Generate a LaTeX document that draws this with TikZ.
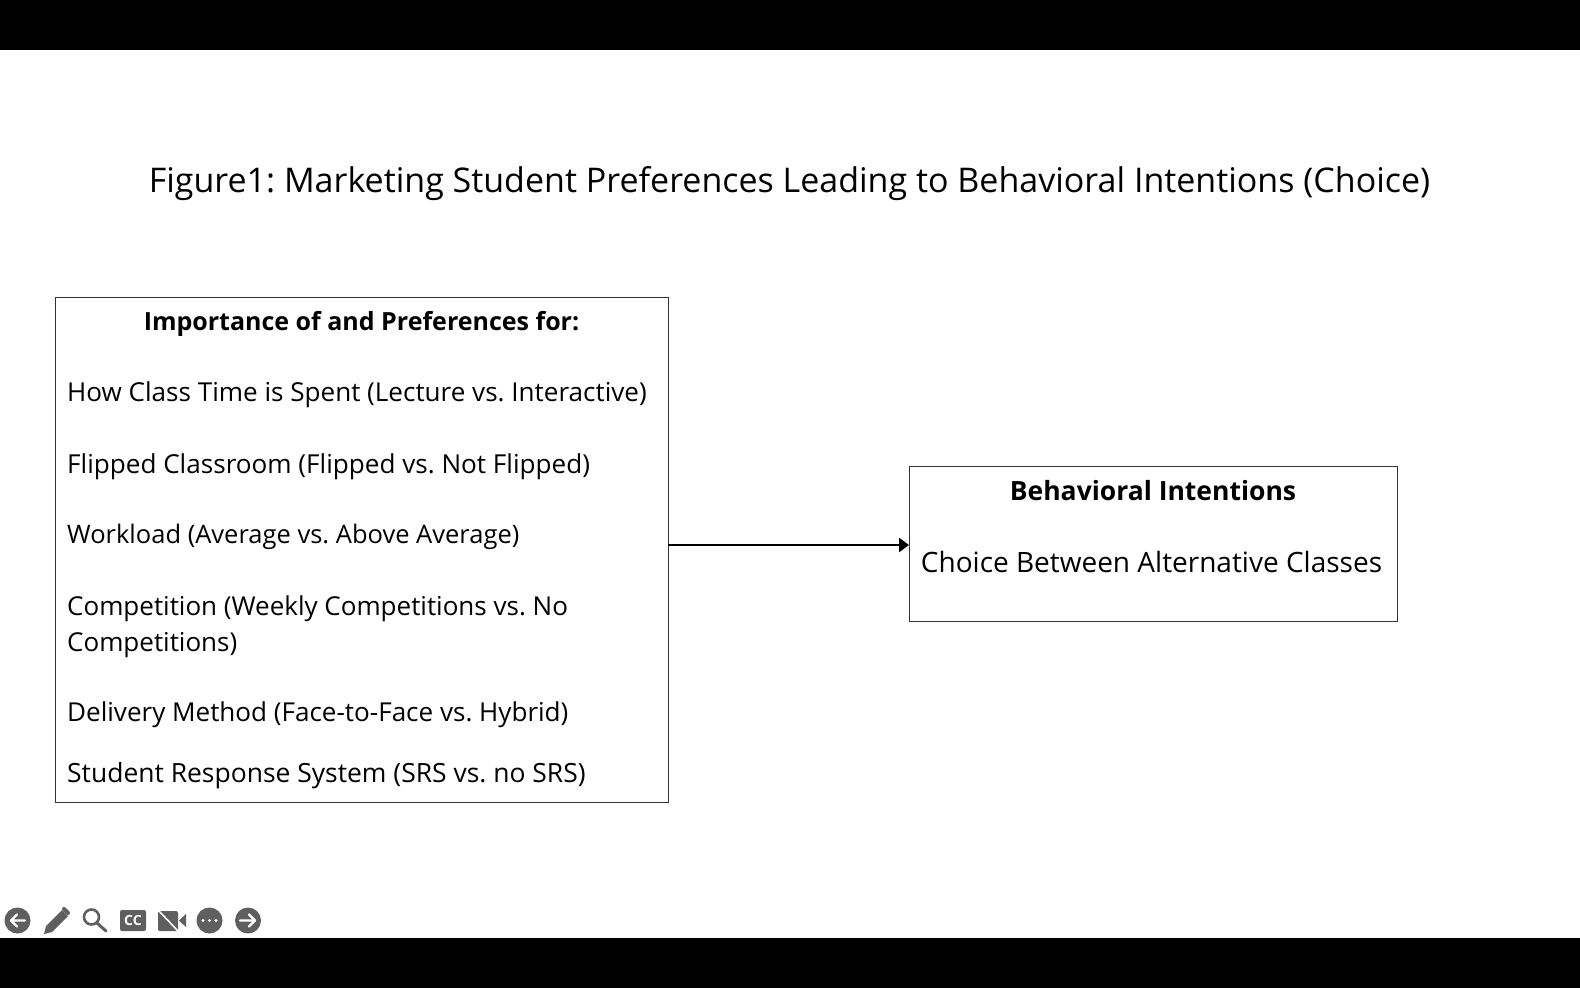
\documentclass[tikz,border=0pt]{standalone}
\usepackage{fontspec}
\setmainfont{Open Sans}
\usetikzlibrary{arrows.meta}
\definecolor{icon}{HTML}{5F5F5F}
\tikzset{
  x=1pt,y=-1pt,
  bar/.style={fill=black,draw=none},
  frame/.style={draw=black!80,line width=1pt,fill=white,inner sep=0pt,outer sep=0pt,anchor=north west},
  item/.style={anchor=base west,inner sep=0pt,font=\fontsize{26}{26}\selectfont,text=black},
  head/.style={anchor=base,inner sep=0pt,font=\fontsize{26}{26}\bfseries\selectfont,text=black},
  link/.style={draw=black,line width=2.7pt,-{Triangle[length=10pt,width=14pt]}},
  disc/.style={circle,fill=icon,draw=none,minimum size=26pt,inner sep=0pt},
  glyph/.style={draw=white,line width=2.2pt,line cap=round,line join=round},
  ink/.style={draw=icon,line width=2.6pt,line cap=round}
}
\begin{document}
\frenchspacing
\begin{tikzpicture}
\useasboundingbox (0,0) rectangle (1580,988);
\fill[white] (0,0) rectangle (1580,988);
\fill[bar] (0,0) rectangle (1580,49.5);
\fill[bar] (0,938) rectangle (1580,988);
\node[anchor=base,inner sep=0pt,font=\fontsize{34}{34}\selectfont] (title) at (789.5,192.5) {Figure1: Marketing Student Preferences Leading to Behavioral Intentions (Choice)};
\node[frame,minimum width=612.5pt,minimum height=505pt] (left) at (55.5,297) {};
\node[frame,minimum width=488pt,minimum height=155pt] (right) at (909,466) {};
\node[head,font=\fontsize{25}{25}\bfseries\selectfont] (lh) at (361.5,330.5) {Importance of and Preferences for:};
\node[item,font=\fontsize{26.07}{26}\selectfont] (l1) at (67,401.5) {How Class Time is Spent (Lecture vs. Interactive)};
\node[item,font=\fontsize{26.1}{26}\selectfont] (l2) at (67,473) {Flipped Classroom (Flipped vs. Not Flipped)};
\node[item,font=\fontsize{25.5}{26}\selectfont] (l3) at (67,543.5) {Workload (Average vs. Above Average)};
\node[item] (l4) at (67,615) {Competition (Weekly Competitions vs. No};
\node[item] (l4b) at (67,651) {Competitions)};
\node[item,font=\fontsize{26.05}{26}\selectfont] (l5) at (67,721) {Delivery Method (Face-to-Face vs. Hybrid)};
\node[item,font=\fontsize{26.45}{26}\selectfont] (l6) at (67,782.5) {Student Response System (SRS vs. no SRS)};
\node[head,font=\fontsize{26.5}{26.5}\bfseries\selectfont] (rh) at (1153,500) {Behavioral Intentions};
\node[item,anchor=base,font=\fontsize{28}{28}\selectfont] (r1) at (1151.5,572) {Choice Between Alternative Classes};
\draw[link] ([yshift=-1.5pt]left.east |- right.west) -- ([yshift=-1.5pt]right.west);
% toolbar
\node[disc] (ib) at (17.5,920.5) {};
\draw[glyph] (25,920.5) -- (11,920.5) (17,914.5) -- (11,920.5) -- (17,926.5);
\fill[icon] (44,934) -- (46,926) -- (62,910) -- (68,916) -- (52,932) -- cycle;
\draw[ink,line width=4pt] (64,909) -- (68,913);
\draw[ink] (91.5,917) circle (7.5);
\draw[ink,line width=3pt] (97,923) -- (106,931);
\fill[icon,rounded corners=2pt] (120,910) rectangle (146,931);
\node[text=white,inner sep=0pt,font=\fontsize{14}{14}\bfseries\selectfont] (cc) at (133,920.5) {CC};
\fill[icon,rounded corners=1.5pt] (158,911) rectangle (178,931);
\fill[icon] (179,920.5) -- (186,914) -- (186,927) -- cycle;
\draw[white,line width=1.6pt] (158,910) -- (178,931);
\node[disc] (im) at (209.5,920.5) {};
\fill[white] (203,920.5) circle (1.6) (209.5,920.5) circle (1.6) (216,920.5) circle (1.6);
\node[disc] (ifw) at (248,920.5) {};
\draw[glyph] (240,920.5) -- (255,920.5) (249,914.5) -- (255,920.5) -- (249,926.5);
\end{tikzpicture}
\end{document}
